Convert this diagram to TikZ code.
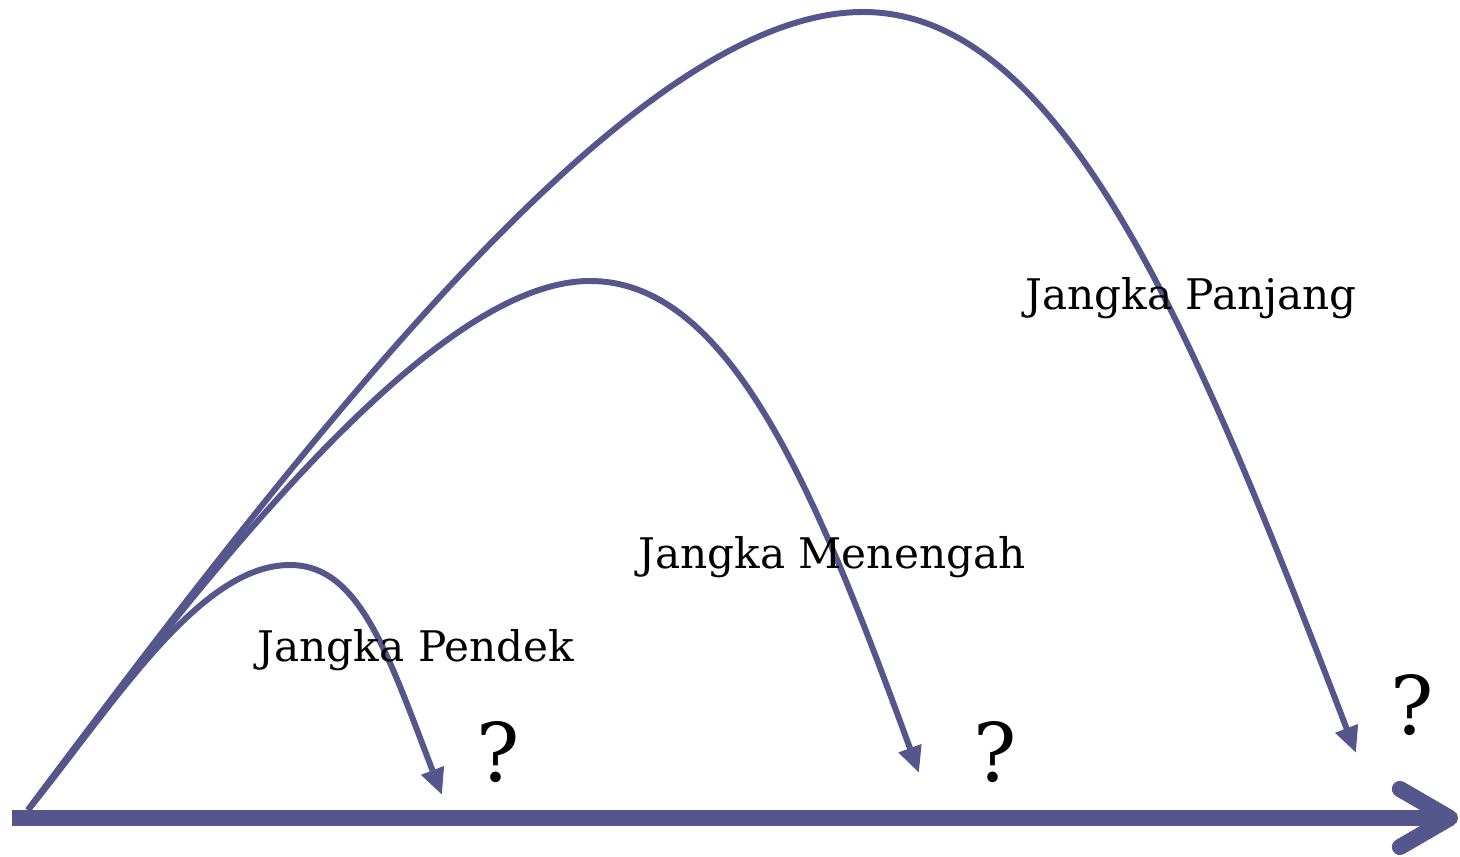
\documentclass[tikz,border=0pt]{standalone}
\usepackage{fontspec}
\setmainfont{DejaVu Serif}
\usetikzlibrary{arrows.meta}
\definecolor{arcblue}{RGB}{84,86,140}

\begin{document}
\begin{tikzpicture}[
  arc/.style={draw=arcblue, line width=1.7pt, -{Triangle[length=7.5pt,width=6.5pt]}},
  lbl/.style={font=\fontsize{12}{14}\selectfont, inner sep=0pt},
  qmark/.style={font=\fontsize{23}{26}\selectfont, inner sep=0pt}]
\useasboundingbox (0,0) rectangle (14.6,8.57);
\coordinate (o) at (0.28,0.47);
\coordinate (peakS) at (2.9,2.92);
\coordinate (peakM) at (5.9,5.76);
\coordinate (peakL) at (8.63,8.45);
\coordinate (endS) at (4.42,0.62);
\coordinate (endM) at (9.19,0.84);
\coordinate (endL) at (13.56,1.04);
\coordinate (axA) at (0.12,0.39);
\coordinate (axB) at (14.58,0.39);
\draw[arcblue, line width=4.6pt, -{Straight Barb[length=5mm,width=5.8mm,line cap=round,line join=round]}] (axA) -- (axB);
\draw[arc] (o) .. controls (3.39,4.64) and (6.43,8.45) .. (peakL) .. controls (10.63,8.45) and (11.95,5.24) .. (endL);
\draw[arc] (o) .. controls (2.25,3.11) and (4.40,5.76) .. (peakM) .. controls (7.30,5.76) and (8.16,3.66) .. (endM);
\draw[arc] (o) .. controls (1.16,1.56) and (2.00,2.92) .. (peakS) .. controls (3.60,2.92) and (3.88,2.02) .. (endS);
\path (11.91,5.59) node[lbl] (panjang) {Jangka Panjang};
\path (8.32,3.0) node[lbl] (menengah) {Jangka Menengah};
\path (4.16,2.07) node[lbl] (pendek) {Jangka Pendek};
\path (4.98,1.05) node[qmark] (qS) {?};
\path (9.95,1.05) node[qmark] (qM) {?};
\path (14.12,1.52) node[qmark] (qL) {?};
\end{tikzpicture}
\end{document}
